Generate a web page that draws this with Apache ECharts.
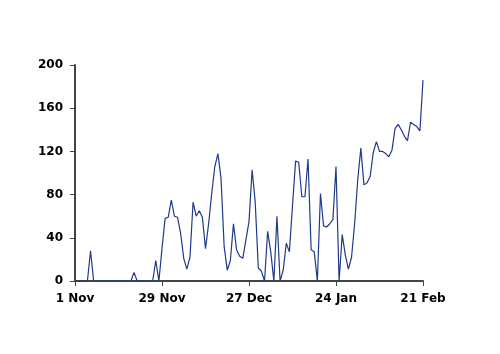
<!DOCTYPE html>
<html>
<head>
<meta charset="utf-8">
<script src="https://cdn.jsdelivr.net/npm/echarts@6/dist/echarts.min.js"></script>
<style>
	html, body { margin: 0; padding: 0; background: #fff; }
	#chart { width: 500px; height: 354px; }
</style>
</head>
<body>
<div id="chart"></div>
<script>
// one value per day, day 0 = 1 Nov, day 112 = 21 Feb
var dailyValues = [
	0, 0, 0, 0, 0, 28, 0, 0, 0, 0,
	0, 0, 0, 0, 0, 0, 0, 0, 0, 8,
	0, 0, 0, 0, 0, 0, 19, 0, 30, 58,
	59, 75, 60, 59, 44, 21, 11, 22, 73, 60,
	65, 59, 30, 53, 81, 106, 118, 95, 32, 10,
	19, 53, 29, 23, 21, 38, 55, 103, 73, 12,
	9, 0, 46, 27, 0, 60, 0, 10, 35, 27,
	70, 111, 110, 78, 78, 113, 29, 27, 0, 81,
	51, 50, 53, 57, 106, 0, 43, 24, 11, 22,
	53, 94, 123, 89, 91, 97, 119, 129, 120, 120,
	118, 115, 121, 141, 145, 140, 134, 130, 147, 145,
	143, 139, 186
];
var xTickLabels = ['1 Nov', '29 Nov', '27 Dec', '24 Jan', '21 Feb'];
var xTickStep = 28;

var chart = echarts.init(document.getElementById('chart'));

var seriesData = dailyValues.map(function (v, i) {
	return [i, v];
});

var axisFont = {
	color: '#000',
	fontFamily: 'DejaVu Sans',
	fontWeight: 'bold',
	fontSize: 12
};

chart.setOption({
	animation: false,
	grid: {
		left: 75,
		right: 77,
		top: 65,
		bottom: 73
	},
	xAxis: {
		type: 'value',
		min: 0,
		max: 112,
		interval: xTickStep,
		splitLine: { show: false },
		axisLine: { lineStyle: { color: '#444', width: 2 } },
		axisTick: { length: 5, lineStyle: { color: '#444', width: 1 } },
		axisLabel: Object.assign({
			margin: 12,
			formatter: function (val) {
				return xTickLabels[Math.round(val / xTickStep)];
			}
		}, axisFont)
	},
	yAxis: {
		type: 'value',
		min: 0,
		max: 200,
		interval: 40,
		splitLine: { show: false },
		axisLine: { show: true, lineStyle: { color: '#444', width: 2 } },
		axisTick: { show: true, length: 5, lineStyle: { color: '#444', width: 1 } },
		axisLabel: Object.assign({ margin: 12 }, axisFont)
	},
	series: [{
		type: 'line',
		data: seriesData,
		showSymbol: false,
		lineStyle: { color: '#1f3a8a', width: 1.2 }
	}]
});
</script>
</body>
</html>
